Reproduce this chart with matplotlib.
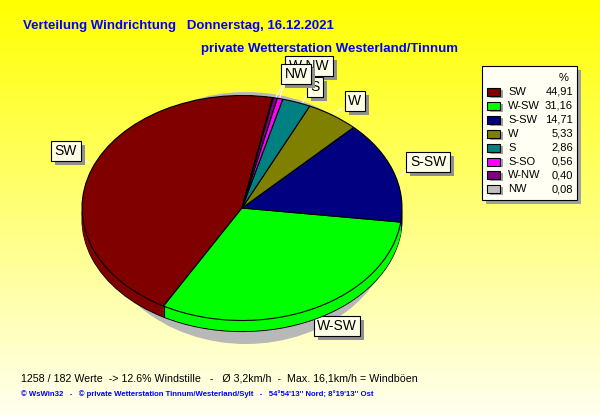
import numpy as np
import matplotlib
matplotlib.use('Agg')
import matplotlib.pyplot as plt
from matplotlib.patches import Ellipse, Rectangle

# data
directions = ['SW', 'W-SW', 'S-SW', 'W', 'S', 'S-SO', 'W-NW', 'NW']
percent = [44.91, 31.16, 14.71, 5.33, 2.86, 0.56, 0.40, 0.08]
colors = ['#800000', '#00FF00', '#000080', '#808000', '#008080', '#FF00FF', '#800080', '#C0C0C0']
value_text = ['44,91', '31,16', '14,71', '5,33', '2,86', '0,56', '0,40', '0,08']

title = 'Verteilung Windrichtung   Donnerstag, 16.12.2021'
subtitle = 'private Wetterstation Westerland/Tinnum'
info = '1258 / 182 Werte  -> 12.6% Windstille   -   \u00d8 3,2km/h  -  Max. 16,1km/h = Windb\u00f6en'
footer = "\u00a9 WsWin32   -   \u00a9 private Wetterstation Tinnum/Westerland/Sylt   -   54\u00b054'13'' Nord; 8\u00b019'13'' Ost"

plt.rcParams['font.family'] = ['Liberation Sans', 'DejaVu Sans']

W, H = 600, 415
fig = plt.figure(figsize=(W / 100, H / 100), dpi=100)

# background gradient (pixel coords)
bg = fig.add_axes([0, 0, 1, 1])
bg.set_xlim(0, W)
bg.set_ylim(H, 0)
bg.axis('off')
grad = np.linspace(0, 1, 256).reshape(-1, 1)
top = np.array([1.0, 1.0, 0.0])
bot = np.array([1.0, 1.0, 0.94])
img = top[None, None, :] * (1 - grad[:, :, None]) + bot[None, None, :] * grad[:, :, None]
bg.imshow(img, extent=[0, W, H, 0], aspect='auto', zorder=0)

# shadow of the pie
bg.add_patch(Ellipse((246, 218), 300, 252, color='#B8B8B8', zorder=1, lw=0))

# pie axes: x 82..402, top face centre y=208, half height 112.5 px
cx, cy, rx, ry = 242, 208, 160, 112.5
ax_top, ax_bot = 80, 345
pie_ax = fig.add_axes([(cx - rx) / W, 1 - ax_bot / H, 2 * rx / W, (ax_bot - ax_top) / H])
pie_ax.patch.set_alpha(0)
depth = 11 / ry
start = 79
for k in np.linspace(depth, 0, 23):
    if k == depth or k == 0:
        wp = dict(edgecolor='black', linewidth=0.8)
    else:
        wp = dict(edgecolor='none', linewidth=0)
    pie_ax.pie(percent, colors=colors, startangle=start, counterclock=True,
               center=(0, -k), radius=1, wedgeprops=wp)
# side edge at the SW / W-SW boundary
ang = np.deg2rad(start + percent[0] * 3.6)
pie_ax.plot([np.cos(ang)] * 2, [np.sin(ang), np.sin(ang) - depth], color='black', lw=0.8)
pie_ax.set_aspect('auto')
pie_ax.set_xlim(-1, 1)
pie_ax.set_ylim(-(ax_bot - cy) / ry, (cy - ax_top) / ry)
pie_ax.axis('off')

# labels with leader lines
label_pos = {'SW': (66, 151), 'W-SW': (337, 326), 'S-SW': (428, 162), 'W': (355, 101),
             'S': (315, 87), 'W-NW': (309, 66), 'NW': (296, 74)}
leaders = {'SW': ((84, 160), (90, 163)), 'W-SW': ((308, 310), (313, 318)),
           'S-SW': ((400, 176), (406, 171)), 'W': ((334, 113), (343, 108)),
           'S': ((302, 104), (306, 96)), 'W-NW': ((276, 97), (290, 72)),
           'NW': ((280, 97), (284, 83))}
for name in ['W-NW', 'S', 'NW', 'W', 'S-SW', 'W-SW', 'SW']:
    (x0, y0), (x1, y1) = leaders[name]
    bg.plot([x0, x1], [y0, y1], color='white', lw=0.8, zorder=5)
    x, y = label_pos[name]
    bg.text(x + 4, y + 4, name, fontsize=10, color='#909090', ha='center', va='center', zorder=6,
            bbox=dict(boxstyle='square,pad=0.25', fc='#909090', ec='#909090', lw=0))
    bg.text(x, y, name, fontsize=10, color='black', ha='center', va='center', zorder=6,
            bbox=dict(boxstyle='square,pad=0.25', fc='#FFFFE8', ec='black', lw=0.8))

# titles
bg.text(23, 26, title, fontsize=9.5, color='#0000FF', fontweight='bold', va='center', zorder=3)
bg.text(201, 49, subtitle, fontsize=9.5, color='#0000FF', fontweight='bold', va='center', zorder=3)
bg.text(21, 378, info, fontsize=7.7, color='black', va='center', zorder=3)
bg.text(21, 394, footer, fontsize=5.55, color='#0000FF', fontweight='bold', va='center', zorder=3)

# legend box
bg.add_patch(Rectangle((486, 70), 95, 134, fc='#A0A0A0', ec='none', zorder=7))
bg.add_patch(Rectangle((482, 66), 95, 134, fc='#FFFFF4', ec='black', lw=0.8, zorder=8))
bg.text(564, 78, '%', fontsize=8, ha='center', va='center', zorder=9)
for i, (name, col, val) in enumerate(zip(directions, colors, value_text)):
    y = 92 + i * 13.9
    bg.add_patch(Rectangle((490, y - 2), 13, 8, fc='#A0A0A0', ec='none', zorder=9))
    bg.add_patch(Rectangle((487, y - 4), 13, 8, fc=col, ec='black', lw=0.8, zorder=10))
    bg.text(508, y, name, fontsize=8, va='center', zorder=10)
    bg.text(573, y, val, fontsize=8, va='center', ha='right', zorder=10)

fig.savefig('out.png', dpi=100)
